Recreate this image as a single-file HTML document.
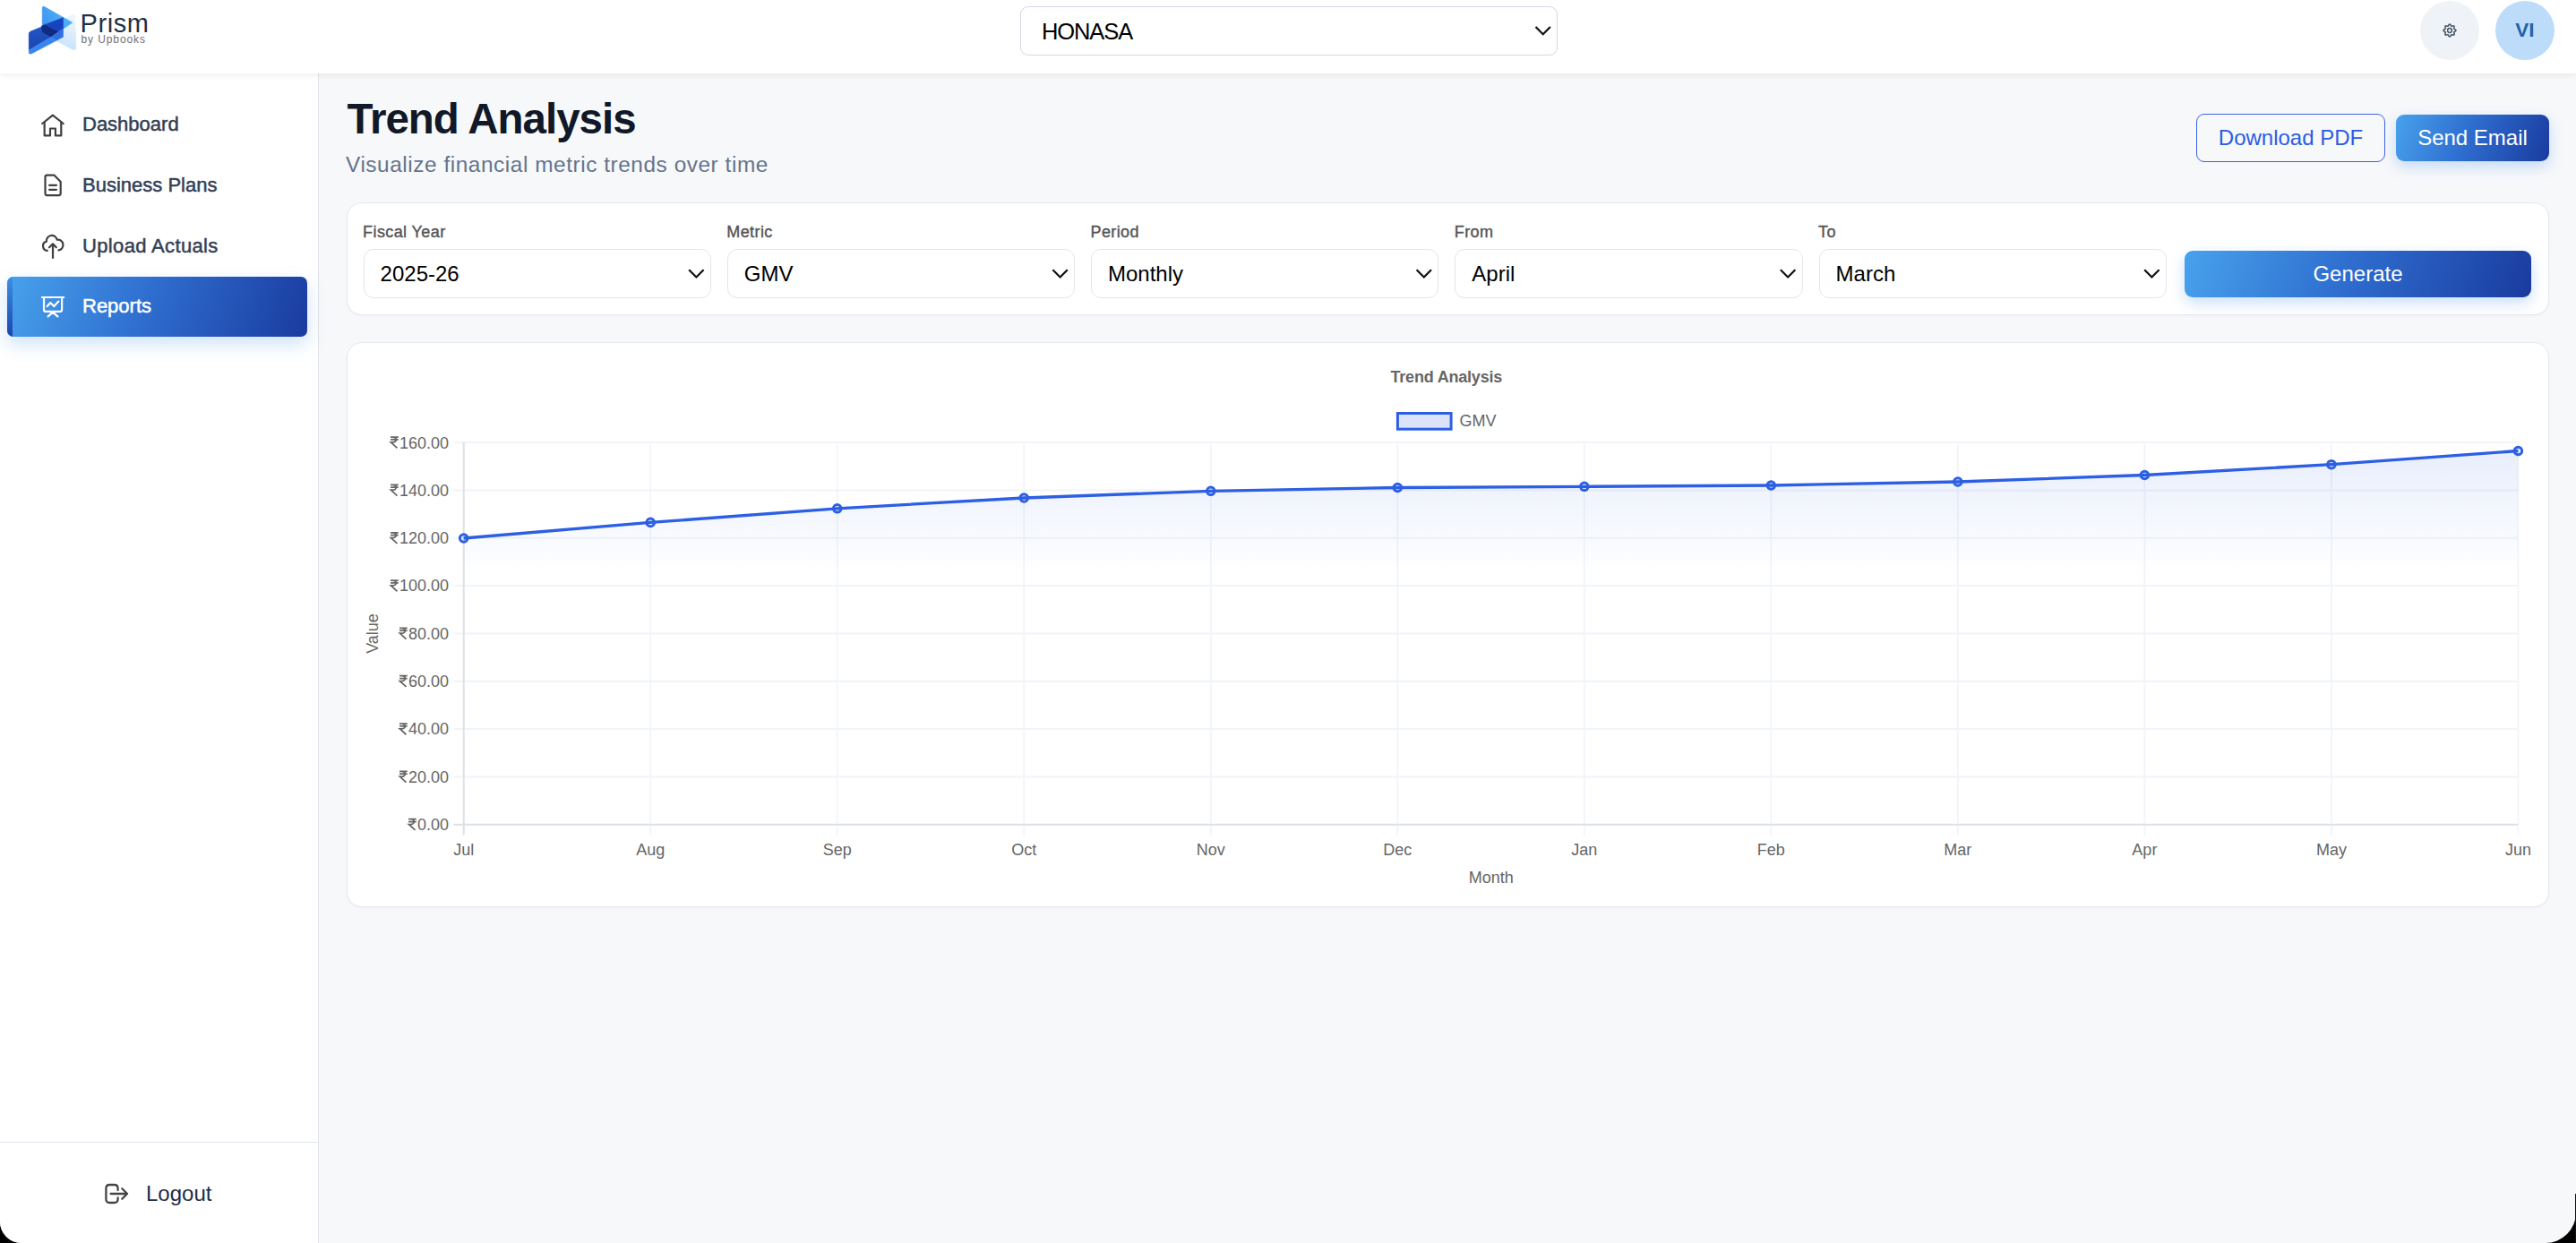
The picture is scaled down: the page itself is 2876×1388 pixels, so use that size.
<!DOCTYPE html>
<html><head><meta charset="utf-8">
<style>
*{margin:0;padding:0;box-sizing:border-box}
html,body{width:2876px;height:1388px;overflow:hidden;background:#000}
body{font-family:"Liberation Sans",sans-serif;position:relative}
.win{position:absolute;left:0;top:0;width:2876px;height:1388px;background:#f7f8fa;border-radius:0 0 34px 24px;overflow:hidden}
.a{position:absolute;line-height:1;white-space:nowrap}
.hdr{position:absolute;left:0;top:0;width:2876px;height:82px;background:#fff;box-shadow:0 2px 7px rgba(0,0,0,0.07)}
.side{position:absolute;left:0;top:82px;width:356px;height:1306px;background:#fff;border-right:1.2px solid #dfe3ea}
.nav{font-size:22px;color:#334155;-webkit-text-stroke:0.5px #334155}
.sel{position:absolute;background:#fff;border:1.4px solid #e3e5ea;border-radius:11px}
.lbl{font-size:18px;color:#555;-webkit-text-stroke:0.4px #555;letter-spacing:0.4px}
.val{font-size:24px;color:#000}
.grad{background:linear-gradient(110deg,#48a2ec 0%,#2f6fd0 45%,#1a3b9f 100%)}
svg text.ct{font-family:"Liberation Sans",sans-serif;font-size:18px;fill:#666}
</style></head><body>
<div class="win">
<div class="side"></div>
<div class="hdr"></div>
<div style="position:absolute;left:0;top:1274.5px;width:355px;height:1.5px;background:#e2e8f0"></div>

<!-- logo -->
<svg class="a" style="left:0;top:0" width="200" height="82" viewBox="0 0 200 82">
  <defs>
    <linearGradient id="lg1" x1="80" y1="12" x2="47" y2="30" gradientUnits="userSpaceOnUse"><stop offset="0" stop-color="#52b9f8"/><stop offset="1" stop-color="#3f93f1"/></linearGradient>
    <linearGradient id="lg3" x1="84" y1="20" x2="72" y2="52" gradientUnits="userSpaceOnUse"><stop offset="0" stop-color="#eef6fe"/><stop offset="1" stop-color="#cbe4fa"/></linearGradient>
    <linearGradient id="lg4" x1="40" y1="36" x2="40" y2="58" gradientUnits="userSpaceOnUse"><stop offset="0" stop-color="#1f52c2"/><stop offset="1" stop-color="#1a44aa"/></linearGradient>
  </defs>
  <g stroke-linejoin="round" stroke-width="1.2">
  <path d="M70.6 32 L70.6 22 L79.8 17 Q82.6 15.8 83.8 18.2 L84.6 53.8 Q83.8 55.8 81.8 55.2 L63 45.3 L70.6 41.3 Z" fill="url(#lg3)" stroke="url(#lg3)"/>
  <path d="M47.3 8.6 Q47.6 6.6 49.6 7.6 L80.8 25.2 L70.6 32 L70.6 19.6 L47.3 29.1 Z" fill="url(#lg1)" stroke="url(#lg1)" stroke-width="0.8"/>
  <path d="M32.2 37.5 Q32.4 35.8 34.2 35 L46.5 30 L46.8 35.9 L57 41.4 L32.3 55.9 Z" fill="url(#lg4)" stroke="url(#lg4)" stroke-width="0.6"/>
  <path d="M46.3 29.1 L50.7 27.2 L66.1 34.9 L57 41.4 L46.8 35.9 Z" fill="#0f2b82" stroke="#0f2b82" stroke-width="0.4"/>
  <path d="M50.7 27.2 L70.6 19.6 L70.6 32 L66.1 34.9 Z" fill="#1742c0" stroke="#1742c0" stroke-width="0.4"/>
  <path d="M57 41.4 L66.1 34.9 L70.6 32 L70.6 41.3 L63 45.3 Z" fill="#2f6fe2" stroke="#2f6fe2" stroke-width="0.4"/>
  <path d="M32.3 55.9 L57 41.4 L63 45.3 L35.5 59.8 Q32.3 61.2 32.2 58.2 Z" fill="#3785ee" stroke="#3785ee" stroke-width="0.6"/>
  </g>
</svg>
<div class="a" style="left:89.5px;top:11.75px;font-size:29px;color:#1f3144;letter-spacing:0.6px">Prism</div>
<div class="a" style="left:90.5px;top:37.94px;font-size:12px;color:#707070;letter-spacing:0.9px">by Upbooks</div>

<!-- company select -->
<div class="sel" style="left:1139px;top:7px;width:600px;height:54.5px;border-color:#d3d9e3;border-radius:9px"></div>
<div class="a" style="left:1163px;top:22.71px;font-size:25.5px;color:#000;letter-spacing:-1.1px">HONASA</div>
<svg class="a" style="left:0;top:0;overflow:visible" width="1" height="1"><path d="M1714.5 30 l8.2 8.2 l8.2 -8.2" fill="none" stroke="#111" stroke-width="2.25"/></svg>

<!-- header right -->
<div style="position:absolute;left:2702px;top:1px;width:66px;height:66px;border-radius:50%;background:#eff3f7"></div>
<svg class="a" style="left:0;top:0;overflow:visible" width="1" height="1"><polygon points="2741.90,34.00 2741.90,34.03 2741.90,34.06 2741.89,34.09 2741.89,34.12 2741.88,34.15 2741.88,34.18 2741.87,34.21 2741.86,34.24 2741.85,34.27 2741.84,34.30 2741.83,34.33 2741.81,34.36 2741.80,34.39 2741.78,34.41 2741.76,34.44 2741.75,34.47 2741.73,34.50 2741.71,34.53 2741.69,34.56 2741.66,34.58 2741.64,34.61 2741.62,34.64 2741.59,34.66 2741.57,34.69 2741.54,34.72 2741.51,34.74 2741.48,34.77 2741.45,34.79 2741.43,34.82 2741.39,34.84 2741.36,34.87 2741.33,34.89 2741.30,34.91 2741.27,34.94 2741.23,34.96 2741.20,34.98 2741.17,35.00 2741.13,35.03 2741.10,35.05 2741.06,35.07 2741.03,35.09 2740.99,35.11 2740.96,35.13 2740.92,35.15 2740.88,35.17 2740.85,35.19 2740.81,35.21 2740.78,35.23 2740.74,35.25 2740.71,35.26 2740.67,35.28 2740.63,35.30 2740.60,35.32 2740.56,35.34 2740.53,35.35 2740.49,35.37 2740.46,35.39 2740.43,35.40 2740.39,35.42 2740.36,35.44 2740.33,35.45 2740.30,35.47 2740.27,35.49 2740.23,35.50 2740.20,35.52 2740.18,35.53 2740.15,35.55 2740.12,35.56 2740.09,35.58 2740.06,35.60 2740.04,35.61 2740.01,35.63 2739.99,35.65 2739.97,35.66 2739.94,35.68 2739.92,35.69 2739.90,35.71 2739.88,35.73 2739.86,35.75 2739.84,35.76 2739.83,35.78 2739.81,35.80 2739.79,35.82 2739.78,35.83 2739.77,35.85 2739.75,35.87 2739.74,35.89 2739.73,35.91 2739.72,35.93 2739.71,35.95 2739.70,35.97 2739.70,35.99 2739.69,36.02 2739.69,36.04 2739.68,36.06 2739.68,36.08 2739.67,36.11 2739.67,36.13 2739.67,36.15 2739.67,36.18 2739.67,36.20 2739.67,36.23 2739.68,36.26 2739.68,36.28 2739.68,36.31 2739.69,36.34 2739.69,36.36 2739.70,36.39 2739.70,36.42 2739.71,36.45 2739.72,36.48 2739.73,36.51 2739.73,36.54 2739.74,36.58 2739.75,36.61 2739.76,36.64 2739.77,36.67 2739.78,36.71 2739.80,36.74 2739.81,36.77 2739.82,36.81 2739.83,36.84 2739.84,36.88 2739.85,36.92 2739.87,36.95 2739.88,36.99 2739.89,37.03 2739.90,37.06 2739.92,37.10 2739.93,37.14 2739.94,37.18 2739.95,37.22 2739.97,37.26 2739.98,37.29 2739.99,37.33 2740.00,37.37 2740.01,37.41 2740.02,37.45 2740.03,37.49 2740.04,37.53 2740.05,37.57 2740.06,37.61 2740.07,37.65 2740.08,37.69 2740.09,37.73 2740.09,37.77 2740.10,37.81 2740.11,37.85 2740.11,37.89 2740.12,37.93 2740.12,37.97 2740.12,38.00 2740.13,38.04 2740.13,38.08 2740.13,38.12 2740.13,38.15 2740.13,38.19 2740.13,38.23 2740.13,38.26 2740.12,38.30 2740.12,38.33 2740.12,38.37 2740.11,38.40 2740.10,38.44 2740.10,38.47 2740.09,38.50 2740.08,38.53 2740.07,38.56 2740.06,38.60 2740.05,38.62 2740.03,38.65 2740.02,38.68 2740.01,38.71 2739.99,38.74 2739.97,38.76 2739.96,38.79 2739.94,38.81 2739.92,38.83 2739.90,38.86 2739.88,38.88 2739.86,38.90 2739.83,38.92 2739.81,38.94 2739.79,38.96 2739.76,38.97 2739.74,38.99 2739.71,39.01 2739.68,39.02 2739.65,39.03 2739.62,39.05 2739.60,39.06 2739.56,39.07 2739.53,39.08 2739.50,39.09 2739.47,39.10 2739.44,39.10 2739.40,39.11 2739.37,39.12 2739.33,39.12 2739.30,39.12 2739.26,39.13 2739.23,39.13 2739.19,39.13 2739.15,39.13 2739.12,39.13 2739.08,39.13 2739.04,39.13 2739.00,39.12 2738.97,39.12 2738.93,39.12 2738.89,39.11 2738.85,39.11 2738.81,39.10 2738.77,39.09 2738.73,39.09 2738.69,39.08 2738.65,39.07 2738.61,39.06 2738.57,39.05 2738.53,39.04 2738.49,39.03 2738.45,39.02 2738.41,39.01 2738.37,39.00 2738.33,38.99 2738.29,38.98 2738.26,38.97 2738.22,38.95 2738.18,38.94 2738.14,38.93 2738.10,38.92 2738.06,38.90 2738.03,38.89 2737.99,38.88 2737.95,38.87 2737.92,38.85 2737.88,38.84 2737.84,38.83 2737.81,38.82 2737.78,38.81 2737.74,38.80 2737.71,38.78 2737.67,38.77 2737.64,38.76 2737.61,38.75 2737.58,38.74 2737.54,38.73 2737.51,38.73 2737.48,38.72 2737.45,38.71 2737.42,38.70 2737.39,38.70 2737.36,38.69 2737.34,38.69 2737.31,38.68 2737.28,38.68 2737.26,38.68 2737.23,38.67 2737.20,38.67 2737.18,38.67 2737.15,38.67 2737.13,38.67 2737.11,38.67 2737.08,38.68 2737.06,38.68 2737.04,38.69 2737.02,38.69 2736.99,38.70 2736.97,38.70 2736.95,38.71 2736.93,38.72 2736.91,38.73 2736.89,38.74 2736.87,38.75 2736.85,38.77 2736.83,38.78 2736.82,38.79 2736.80,38.81 2736.78,38.83 2736.76,38.84 2736.75,38.86 2736.73,38.88 2736.71,38.90 2736.69,38.92 2736.68,38.94 2736.66,38.97 2736.65,38.99 2736.63,39.01 2736.61,39.04 2736.60,39.06 2736.58,39.09 2736.56,39.12 2736.55,39.15 2736.53,39.18 2736.52,39.20 2736.50,39.23 2736.49,39.27 2736.47,39.30 2736.45,39.33 2736.44,39.36 2736.42,39.39 2736.40,39.43 2736.39,39.46 2736.37,39.49 2736.35,39.53 2736.34,39.56 2736.32,39.60 2736.30,39.63 2736.28,39.67 2736.26,39.71 2736.25,39.74 2736.23,39.78 2736.21,39.81 2736.19,39.85 2736.17,39.88 2736.15,39.92 2736.13,39.96 2736.11,39.99 2736.09,40.03 2736.07,40.06 2736.05,40.10 2736.03,40.13 2736.00,40.17 2735.98,40.20 2735.96,40.23 2735.94,40.27 2735.91,40.30 2735.89,40.33 2735.87,40.36 2735.84,40.39 2735.82,40.43 2735.79,40.45 2735.77,40.48 2735.74,40.51 2735.72,40.54 2735.69,40.57 2735.66,40.59 2735.64,40.62 2735.61,40.64 2735.58,40.66 2735.56,40.69 2735.53,40.71 2735.50,40.73 2735.47,40.75 2735.44,40.76 2735.41,40.78 2735.39,40.80 2735.36,40.81 2735.33,40.83 2735.30,40.84 2735.27,40.85 2735.24,40.86 2735.21,40.87 2735.18,40.88 2735.15,40.88 2735.12,40.89 2735.09,40.89 2735.06,40.90 2735.03,40.90 2735.00,40.90 2734.97,40.90 2734.94,40.90 2734.91,40.89 2734.88,40.89 2734.85,40.88 2734.82,40.88 2734.79,40.87 2734.76,40.86 2734.73,40.85 2734.70,40.84 2734.67,40.83 2734.64,40.81 2734.61,40.80 2734.59,40.78 2734.56,40.76 2734.53,40.75 2734.50,40.73 2734.47,40.71 2734.44,40.69 2734.42,40.66 2734.39,40.64 2734.36,40.62 2734.34,40.59 2734.31,40.57 2734.28,40.54 2734.26,40.51 2734.23,40.48 2734.21,40.45 2734.18,40.43 2734.16,40.39 2734.13,40.36 2734.11,40.33 2734.09,40.30 2734.06,40.27 2734.04,40.23 2734.02,40.20 2734.00,40.17 2733.97,40.13 2733.95,40.10 2733.93,40.06 2733.91,40.03 2733.89,39.99 2733.87,39.96 2733.85,39.92 2733.83,39.88 2733.81,39.85 2733.79,39.81 2733.77,39.78 2733.75,39.74 2733.74,39.71 2733.72,39.67 2733.70,39.63 2733.68,39.60 2733.66,39.56 2733.65,39.53 2733.63,39.49 2733.61,39.46 2733.60,39.43 2733.58,39.39 2733.56,39.36 2733.55,39.33 2733.53,39.30 2733.51,39.27 2733.50,39.23 2733.48,39.20 2733.47,39.18 2733.45,39.15 2733.44,39.12 2733.42,39.09 2733.40,39.06 2733.39,39.04 2733.37,39.01 2733.35,38.99 2733.34,38.97 2733.32,38.94 2733.31,38.92 2733.29,38.90 2733.27,38.88 2733.25,38.86 2733.24,38.84 2733.22,38.83 2733.20,38.81 2733.18,38.79 2733.17,38.78 2733.15,38.77 2733.13,38.75 2733.11,38.74 2733.09,38.73 2733.07,38.72 2733.05,38.71 2733.03,38.70 2733.01,38.70 2732.98,38.69 2732.96,38.69 2732.94,38.68 2732.92,38.68 2732.89,38.67 2732.87,38.67 2732.85,38.67 2732.82,38.67 2732.80,38.67 2732.77,38.67 2732.74,38.68 2732.72,38.68 2732.69,38.68 2732.66,38.69 2732.64,38.69 2732.61,38.70 2732.58,38.70 2732.55,38.71 2732.52,38.72 2732.49,38.73 2732.46,38.73 2732.42,38.74 2732.39,38.75 2732.36,38.76 2732.33,38.77 2732.29,38.78 2732.26,38.80 2732.22,38.81 2732.19,38.82 2732.16,38.83 2732.12,38.84 2732.08,38.85 2732.05,38.87 2732.01,38.88 2731.97,38.89 2731.94,38.90 2731.90,38.92 2731.86,38.93 2731.82,38.94 2731.78,38.95 2731.74,38.97 2731.71,38.98 2731.67,38.99 2731.63,39.00 2731.59,39.01 2731.55,39.02 2731.51,39.03 2731.47,39.04 2731.43,39.05 2731.39,39.06 2731.35,39.07 2731.31,39.08 2731.27,39.09 2731.23,39.09 2731.19,39.10 2731.15,39.11 2731.11,39.11 2731.07,39.12 2731.03,39.12 2731.00,39.12 2730.96,39.13 2730.92,39.13 2730.88,39.13 2730.85,39.13 2730.81,39.13 2730.77,39.13 2730.74,39.13 2730.70,39.12 2730.67,39.12 2730.63,39.12 2730.60,39.11 2730.56,39.10 2730.53,39.10 2730.50,39.09 2730.47,39.08 2730.44,39.07 2730.40,39.06 2730.38,39.05 2730.35,39.03 2730.32,39.02 2730.29,39.01 2730.26,38.99 2730.24,38.97 2730.21,38.96 2730.19,38.94 2730.17,38.92 2730.14,38.90 2730.12,38.88 2730.10,38.86 2730.08,38.83 2730.06,38.81 2730.04,38.79 2730.03,38.76 2730.01,38.74 2729.99,38.71 2729.98,38.68 2729.97,38.65 2729.95,38.62 2729.94,38.60 2729.93,38.56 2729.92,38.53 2729.91,38.50 2729.90,38.47 2729.90,38.44 2729.89,38.40 2729.88,38.37 2729.88,38.33 2729.88,38.30 2729.87,38.26 2729.87,38.23 2729.87,38.19 2729.87,38.15 2729.87,38.12 2729.87,38.08 2729.87,38.04 2729.88,38.00 2729.88,37.97 2729.88,37.93 2729.89,37.89 2729.89,37.85 2729.90,37.81 2729.91,37.77 2729.91,37.73 2729.92,37.69 2729.93,37.65 2729.94,37.61 2729.95,37.57 2729.96,37.53 2729.97,37.49 2729.98,37.45 2729.99,37.41 2730.00,37.37 2730.01,37.33 2730.02,37.29 2730.03,37.26 2730.05,37.22 2730.06,37.18 2730.07,37.14 2730.08,37.10 2730.10,37.06 2730.11,37.03 2730.12,36.99 2730.13,36.95 2730.15,36.92 2730.16,36.88 2730.17,36.84 2730.18,36.81 2730.19,36.77 2730.20,36.74 2730.22,36.71 2730.23,36.67 2730.24,36.64 2730.25,36.61 2730.26,36.58 2730.27,36.54 2730.27,36.51 2730.28,36.48 2730.29,36.45 2730.30,36.42 2730.30,36.39 2730.31,36.36 2730.31,36.34 2730.32,36.31 2730.32,36.28 2730.32,36.26 2730.33,36.23 2730.33,36.20 2730.33,36.18 2730.33,36.15 2730.33,36.13 2730.33,36.11 2730.32,36.08 2730.32,36.06 2730.31,36.04 2730.31,36.02 2730.30,35.99 2730.30,35.97 2730.29,35.95 2730.28,35.93 2730.27,35.91 2730.26,35.89 2730.25,35.87 2730.23,35.85 2730.22,35.83 2730.21,35.82 2730.19,35.80 2730.17,35.78 2730.16,35.76 2730.14,35.75 2730.12,35.73 2730.10,35.71 2730.08,35.69 2730.06,35.68 2730.03,35.66 2730.01,35.65 2729.99,35.63 2729.96,35.61 2729.94,35.60 2729.91,35.58 2729.88,35.56 2729.85,35.55 2729.82,35.53 2729.80,35.52 2729.77,35.50 2729.73,35.49 2729.70,35.47 2729.67,35.45 2729.64,35.44 2729.61,35.42 2729.57,35.40 2729.54,35.39 2729.51,35.37 2729.47,35.35 2729.44,35.34 2729.40,35.32 2729.37,35.30 2729.33,35.28 2729.29,35.26 2729.26,35.25 2729.22,35.23 2729.19,35.21 2729.15,35.19 2729.12,35.17 2729.08,35.15 2729.04,35.13 2729.01,35.11 2728.97,35.09 2728.94,35.07 2728.90,35.05 2728.87,35.03 2728.83,35.00 2728.80,34.98 2728.77,34.96 2728.73,34.94 2728.70,34.91 2728.67,34.89 2728.64,34.87 2728.61,34.84 2728.57,34.82 2728.55,34.79 2728.52,34.77 2728.49,34.74 2728.46,34.72 2728.43,34.69 2728.41,34.66 2728.38,34.64 2728.36,34.61 2728.34,34.58 2728.31,34.56 2728.29,34.53 2728.27,34.50 2728.25,34.47 2728.24,34.44 2728.22,34.41 2728.20,34.39 2728.19,34.36 2728.17,34.33 2728.16,34.30 2728.15,34.27 2728.14,34.24 2728.13,34.21 2728.12,34.18 2728.12,34.15 2728.11,34.12 2728.11,34.09 2728.10,34.06 2728.10,34.03 2728.10,34.00 2728.10,33.97 2728.10,33.94 2728.11,33.91 2728.11,33.88 2728.12,33.85 2728.12,33.82 2728.13,33.79 2728.14,33.76 2728.15,33.73 2728.16,33.70 2728.17,33.67 2728.19,33.64 2728.20,33.61 2728.22,33.59 2728.24,33.56 2728.25,33.53 2728.27,33.50 2728.29,33.47 2728.31,33.44 2728.34,33.42 2728.36,33.39 2728.38,33.36 2728.41,33.34 2728.43,33.31 2728.46,33.28 2728.49,33.26 2728.52,33.23 2728.55,33.21 2728.57,33.18 2728.61,33.16 2728.64,33.13 2728.67,33.11 2728.70,33.09 2728.73,33.06 2728.77,33.04 2728.80,33.02 2728.83,33.00 2728.87,32.97 2728.90,32.95 2728.94,32.93 2728.97,32.91 2729.01,32.89 2729.04,32.87 2729.08,32.85 2729.12,32.83 2729.15,32.81 2729.19,32.79 2729.22,32.77 2729.26,32.75 2729.29,32.74 2729.33,32.72 2729.37,32.70 2729.40,32.68 2729.44,32.66 2729.47,32.65 2729.51,32.63 2729.54,32.61 2729.57,32.60 2729.61,32.58 2729.64,32.56 2729.67,32.55 2729.70,32.53 2729.73,32.51 2729.77,32.50 2729.80,32.48 2729.82,32.47 2729.85,32.45 2729.88,32.44 2729.91,32.42 2729.94,32.40 2729.96,32.39 2729.99,32.37 2730.01,32.35 2730.03,32.34 2730.06,32.32 2730.08,32.31 2730.10,32.29 2730.12,32.27 2730.14,32.25 2730.16,32.24 2730.17,32.22 2730.19,32.20 2730.21,32.18 2730.22,32.17 2730.23,32.15 2730.25,32.13 2730.26,32.11 2730.27,32.09 2730.28,32.07 2730.29,32.05 2730.30,32.03 2730.30,32.01 2730.31,31.98 2730.31,31.96 2730.32,31.94 2730.32,31.92 2730.33,31.89 2730.33,31.87 2730.33,31.85 2730.33,31.82 2730.33,31.80 2730.33,31.77 2730.32,31.74 2730.32,31.72 2730.32,31.69 2730.31,31.66 2730.31,31.64 2730.30,31.61 2730.30,31.58 2730.29,31.55 2730.28,31.52 2730.27,31.49 2730.27,31.46 2730.26,31.42 2730.25,31.39 2730.24,31.36 2730.23,31.33 2730.22,31.29 2730.20,31.26 2730.19,31.22 2730.18,31.19 2730.17,31.16 2730.16,31.12 2730.15,31.08 2730.13,31.05 2730.12,31.01 2730.11,30.97 2730.10,30.94 2730.08,30.90 2730.07,30.86 2730.06,30.82 2730.05,30.78 2730.03,30.74 2730.02,30.71 2730.01,30.67 2730.00,30.63 2729.99,30.59 2729.98,30.55 2729.97,30.51 2729.96,30.47 2729.95,30.43 2729.94,30.39 2729.93,30.35 2729.92,30.31 2729.91,30.27 2729.91,30.23 2729.90,30.19 2729.89,30.15 2729.89,30.11 2729.88,30.07 2729.88,30.03 2729.88,30.00 2729.87,29.96 2729.87,29.92 2729.87,29.88 2729.87,29.85 2729.87,29.81 2729.87,29.77 2729.87,29.74 2729.88,29.70 2729.88,29.67 2729.88,29.63 2729.89,29.60 2729.90,29.56 2729.90,29.53 2729.91,29.50 2729.92,29.47 2729.93,29.44 2729.94,29.40 2729.95,29.38 2729.97,29.35 2729.98,29.32 2729.99,29.29 2730.01,29.26 2730.03,29.24 2730.04,29.21 2730.06,29.19 2730.08,29.17 2730.10,29.14 2730.12,29.12 2730.14,29.10 2730.17,29.08 2730.19,29.06 2730.21,29.04 2730.24,29.03 2730.26,29.01 2730.29,28.99 2730.32,28.98 2730.35,28.97 2730.38,28.95 2730.40,28.94 2730.44,28.93 2730.47,28.92 2730.50,28.91 2730.53,28.90 2730.56,28.90 2730.60,28.89 2730.63,28.88 2730.67,28.88 2730.70,28.88 2730.74,28.87 2730.77,28.87 2730.81,28.87 2730.85,28.87 2730.88,28.87 2730.92,28.87 2730.96,28.87 2731.00,28.88 2731.03,28.88 2731.07,28.88 2731.11,28.89 2731.15,28.89 2731.19,28.90 2731.23,28.91 2731.27,28.91 2731.31,28.92 2731.35,28.93 2731.39,28.94 2731.43,28.95 2731.47,28.96 2731.51,28.97 2731.55,28.98 2731.59,28.99 2731.63,29.00 2731.67,29.01 2731.71,29.02 2731.74,29.03 2731.78,29.05 2731.82,29.06 2731.86,29.07 2731.90,29.08 2731.94,29.10 2731.97,29.11 2732.01,29.12 2732.05,29.13 2732.08,29.15 2732.12,29.16 2732.16,29.17 2732.19,29.18 2732.22,29.19 2732.26,29.20 2732.29,29.22 2732.33,29.23 2732.36,29.24 2732.39,29.25 2732.42,29.26 2732.46,29.27 2732.49,29.27 2732.52,29.28 2732.55,29.29 2732.58,29.30 2732.61,29.30 2732.64,29.31 2732.66,29.31 2732.69,29.32 2732.72,29.32 2732.74,29.32 2732.77,29.33 2732.80,29.33 2732.82,29.33 2732.85,29.33 2732.87,29.33 2732.89,29.33 2732.92,29.32 2732.94,29.32 2732.96,29.31 2732.98,29.31 2733.01,29.30 2733.03,29.30 2733.05,29.29 2733.07,29.28 2733.09,29.27 2733.11,29.26 2733.13,29.25 2733.15,29.23 2733.17,29.22 2733.18,29.21 2733.20,29.19 2733.22,29.17 2733.24,29.16 2733.25,29.14 2733.27,29.12 2733.29,29.10 2733.31,29.08 2733.32,29.06 2733.34,29.03 2733.35,29.01 2733.37,28.99 2733.39,28.96 2733.40,28.94 2733.42,28.91 2733.44,28.88 2733.45,28.85 2733.47,28.82 2733.48,28.80 2733.50,28.77 2733.51,28.73 2733.53,28.70 2733.55,28.67 2733.56,28.64 2733.58,28.61 2733.60,28.57 2733.61,28.54 2733.63,28.51 2733.65,28.47 2733.66,28.44 2733.68,28.40 2733.70,28.37 2733.72,28.33 2733.74,28.29 2733.75,28.26 2733.77,28.22 2733.79,28.19 2733.81,28.15 2733.83,28.12 2733.85,28.08 2733.87,28.04 2733.89,28.01 2733.91,27.97 2733.93,27.94 2733.95,27.90 2733.97,27.87 2734.00,27.83 2734.02,27.80 2734.04,27.77 2734.06,27.73 2734.09,27.70 2734.11,27.67 2734.13,27.64 2734.16,27.61 2734.18,27.57 2734.21,27.55 2734.23,27.52 2734.26,27.49 2734.28,27.46 2734.31,27.43 2734.34,27.41 2734.36,27.38 2734.39,27.36 2734.42,27.34 2734.44,27.31 2734.47,27.29 2734.50,27.27 2734.53,27.25 2734.56,27.24 2734.59,27.22 2734.61,27.20 2734.64,27.19 2734.67,27.17 2734.70,27.16 2734.73,27.15 2734.76,27.14 2734.79,27.13 2734.82,27.12 2734.85,27.12 2734.88,27.11 2734.91,27.11 2734.94,27.10 2734.97,27.10 2735.00,27.10 2735.03,27.10 2735.06,27.10 2735.09,27.11 2735.12,27.11 2735.15,27.12 2735.18,27.12 2735.21,27.13 2735.24,27.14 2735.27,27.15 2735.30,27.16 2735.33,27.17 2735.36,27.19 2735.39,27.20 2735.41,27.22 2735.44,27.24 2735.47,27.25 2735.50,27.27 2735.53,27.29 2735.56,27.31 2735.58,27.34 2735.61,27.36 2735.64,27.38 2735.66,27.41 2735.69,27.43 2735.72,27.46 2735.74,27.49 2735.77,27.52 2735.79,27.55 2735.82,27.57 2735.84,27.61 2735.87,27.64 2735.89,27.67 2735.91,27.70 2735.94,27.73 2735.96,27.77 2735.98,27.80 2736.00,27.83 2736.03,27.87 2736.05,27.90 2736.07,27.94 2736.09,27.97 2736.11,28.01 2736.13,28.04 2736.15,28.08 2736.17,28.12 2736.19,28.15 2736.21,28.19 2736.23,28.22 2736.25,28.26 2736.26,28.29 2736.28,28.33 2736.30,28.37 2736.32,28.40 2736.34,28.44 2736.35,28.47 2736.37,28.51 2736.39,28.54 2736.40,28.57 2736.42,28.61 2736.44,28.64 2736.45,28.67 2736.47,28.70 2736.49,28.73 2736.50,28.77 2736.52,28.80 2736.53,28.82 2736.55,28.85 2736.56,28.88 2736.58,28.91 2736.60,28.94 2736.61,28.96 2736.63,28.99 2736.65,29.01 2736.66,29.03 2736.68,29.06 2736.69,29.08 2736.71,29.10 2736.73,29.12 2736.75,29.14 2736.76,29.16 2736.78,29.17 2736.80,29.19 2736.82,29.21 2736.83,29.22 2736.85,29.23 2736.87,29.25 2736.89,29.26 2736.91,29.27 2736.93,29.28 2736.95,29.29 2736.97,29.30 2736.99,29.30 2737.02,29.31 2737.04,29.31 2737.06,29.32 2737.08,29.32 2737.11,29.33 2737.13,29.33 2737.15,29.33 2737.18,29.33 2737.20,29.33 2737.23,29.33 2737.26,29.32 2737.28,29.32 2737.31,29.32 2737.34,29.31 2737.36,29.31 2737.39,29.30 2737.42,29.30 2737.45,29.29 2737.48,29.28 2737.51,29.27 2737.54,29.27 2737.58,29.26 2737.61,29.25 2737.64,29.24 2737.67,29.23 2737.71,29.22 2737.74,29.20 2737.78,29.19 2737.81,29.18 2737.84,29.17 2737.88,29.16 2737.92,29.15 2737.95,29.13 2737.99,29.12 2738.03,29.11 2738.06,29.10 2738.10,29.08 2738.14,29.07 2738.18,29.06 2738.22,29.05 2738.26,29.03 2738.29,29.02 2738.33,29.01 2738.37,29.00 2738.41,28.99 2738.45,28.98 2738.49,28.97 2738.53,28.96 2738.57,28.95 2738.61,28.94 2738.65,28.93 2738.69,28.92 2738.73,28.91 2738.77,28.91 2738.81,28.90 2738.85,28.89 2738.89,28.89 2738.93,28.88 2738.97,28.88 2739.00,28.88 2739.04,28.87 2739.08,28.87 2739.12,28.87 2739.15,28.87 2739.19,28.87 2739.23,28.87 2739.26,28.87 2739.30,28.88 2739.33,28.88 2739.37,28.88 2739.40,28.89 2739.44,28.90 2739.47,28.90 2739.50,28.91 2739.53,28.92 2739.56,28.93 2739.60,28.94 2739.62,28.95 2739.65,28.97 2739.68,28.98 2739.71,28.99 2739.74,29.01 2739.76,29.03 2739.79,29.04 2739.81,29.06 2739.83,29.08 2739.86,29.10 2739.88,29.12 2739.90,29.14 2739.92,29.17 2739.94,29.19 2739.96,29.21 2739.97,29.24 2739.99,29.26 2740.01,29.29 2740.02,29.32 2740.03,29.35 2740.05,29.38 2740.06,29.40 2740.07,29.44 2740.08,29.47 2740.09,29.50 2740.10,29.53 2740.10,29.56 2740.11,29.60 2740.12,29.63 2740.12,29.67 2740.12,29.70 2740.13,29.74 2740.13,29.77 2740.13,29.81 2740.13,29.85 2740.13,29.88 2740.13,29.92 2740.13,29.96 2740.12,30.00 2740.12,30.03 2740.12,30.07 2740.11,30.11 2740.11,30.15 2740.10,30.19 2740.09,30.23 2740.09,30.27 2740.08,30.31 2740.07,30.35 2740.06,30.39 2740.05,30.43 2740.04,30.47 2740.03,30.51 2740.02,30.55 2740.01,30.59 2740.00,30.63 2739.99,30.67 2739.98,30.71 2739.97,30.74 2739.95,30.78 2739.94,30.82 2739.93,30.86 2739.92,30.90 2739.90,30.94 2739.89,30.97 2739.88,31.01 2739.87,31.05 2739.85,31.08 2739.84,31.12 2739.83,31.16 2739.82,31.19 2739.81,31.22 2739.80,31.26 2739.78,31.29 2739.77,31.33 2739.76,31.36 2739.75,31.39 2739.74,31.42 2739.73,31.46 2739.73,31.49 2739.72,31.52 2739.71,31.55 2739.70,31.58 2739.70,31.61 2739.69,31.64 2739.69,31.66 2739.68,31.69 2739.68,31.72 2739.68,31.74 2739.67,31.77 2739.67,31.80 2739.67,31.82 2739.67,31.85 2739.67,31.87 2739.67,31.89 2739.68,31.92 2739.68,31.94 2739.69,31.96 2739.69,31.98 2739.70,32.01 2739.70,32.03 2739.71,32.05 2739.72,32.07 2739.73,32.09 2739.74,32.11 2739.75,32.13 2739.77,32.15 2739.78,32.17 2739.79,32.18 2739.81,32.20 2739.83,32.22 2739.84,32.24 2739.86,32.25 2739.88,32.27 2739.90,32.29 2739.92,32.31 2739.94,32.32 2739.97,32.34 2739.99,32.35 2740.01,32.37 2740.04,32.39 2740.06,32.40 2740.09,32.42 2740.12,32.44 2740.15,32.45 2740.18,32.47 2740.20,32.48 2740.23,32.50 2740.27,32.51 2740.30,32.53 2740.33,32.55 2740.36,32.56 2740.39,32.58 2740.43,32.60 2740.46,32.61 2740.49,32.63 2740.53,32.65 2740.56,32.66 2740.60,32.68 2740.63,32.70 2740.67,32.72 2740.71,32.74 2740.74,32.75 2740.78,32.77 2740.81,32.79 2740.85,32.81 2740.88,32.83 2740.92,32.85 2740.96,32.87 2740.99,32.89 2741.03,32.91 2741.06,32.93 2741.10,32.95 2741.13,32.97 2741.17,33.00 2741.20,33.02 2741.23,33.04 2741.27,33.06 2741.30,33.09 2741.33,33.11 2741.36,33.13 2741.39,33.16 2741.43,33.18 2741.45,33.21 2741.48,33.23 2741.51,33.26 2741.54,33.28 2741.57,33.31 2741.59,33.34 2741.62,33.36 2741.64,33.39 2741.66,33.42 2741.69,33.44 2741.71,33.47 2741.73,33.50 2741.75,33.53 2741.76,33.56 2741.78,33.59 2741.80,33.61 2741.81,33.64 2741.83,33.67 2741.84,33.70 2741.85,33.73 2741.86,33.76 2741.87,33.79 2741.88,33.82 2741.88,33.85 2741.89,33.88 2741.89,33.91 2741.90,33.94 2741.90,33.97" fill="none" stroke="#475569" stroke-width="1.5"/><circle cx="2735" cy="34" r="2.4" fill="none" stroke="#475569" stroke-width="1.5"/></svg>
<div style="position:absolute;left:2786px;top:1px;width:66px;height:66px;border-radius:50%;background:#bcdcfa"></div>
<div class="a" style="left:2786px;width:66px;text-align:center;top:22.95px;font-size:22.5px;font-weight:bold;color:#2361a9">VI</div>

<!-- nav -->
<svg class="a" style="left:0;top:0;overflow:visible" width="1" height="1">
 <g fill="none" stroke="#404040" stroke-width="2.2" stroke-linejoin="round" stroke-linecap="round">
  <path d="M47.2 138 L58.9 128.7 L70.7 138"/>
  <path d="M49.65 136.5 V151.4 H56 V143.5 H61.9 V151.4 H68.3 V136.5"/>
  <path d="M52.5 195.6 H60.4 L67.7 203.1 V216.1 Q67.7 218.1 65.7 218.1 H52.5 Q50.5 218.1 50.5 216.1 V197.6 Q50.5 195.6 52.5 195.6 Z"/>
  <path d="M55.1 206.8 H63 M55.1 211.8 H63"/>
  <path d="M52.8 279.8 A5.2 5.2 0 0 1 51.9 269.6 A5.94 5.94 0 0 1 63.6 267.6 A5.9 5.9 0 0 1 65.4 279.4"/>
  <path d="M59 288 V272.8 M55 276.3 L59 272.3 L62.8 276.3"/>
 </g>
</svg>
<div class="a nav" style="left:92px;top:128.47px">Dashboard</div>
<div class="a nav" style="left:92px;top:196.37px">Business Plans</div>
<div class="a nav" style="left:92px;top:263.57px;letter-spacing:0.35px">Upload Actuals</div>

<div class="grad" style="position:absolute;left:8px;top:309px;width:335px;height:67px;border-radius:7px;box-shadow:0 8px 20px rgba(59,140,230,0.25);overflow:hidden">
  <div style="position:absolute;left:0;top:0;width:6px;height:67px;background:linear-gradient(180deg,#3f8fe3,#1a45b0)"></div>
</div>
<svg class="a" style="left:0;top:0;overflow:visible" width="1" height="1">
 <g fill="none" stroke="#fff" stroke-width="2.2" stroke-linejoin="round" stroke-linecap="round">
  <path d="M46.9 332 H71.2"/>
  <path d="M49 332 V346 Q49 347.9 51 347.9 H67.1 Q69.1 347.9 69.1 346 V332"/>
  <path d="M52.7 342.1 L56.4 338.1 L60.3 342.1 L65.4 336.6"/>
  <path d="M53.6 353.4 L59 348.6 L64.4 353.4"/>
 </g>
</svg>
<div class="a nav" style="left:92px;top:331.37px;color:#fff;-webkit-text-stroke:0.5px #fff">Reports</div>

<!-- logout -->
<svg class="a" style="left:0;top:0;overflow:visible" width="1" height="1">
 <g fill="none" stroke="#444" stroke-width="2.3" stroke-linejoin="round" stroke-linecap="round">
  <path d="M131.6 1329 V1327 Q131.6 1323 127.6 1323 H122.4 Q118.4 1323 118.4 1327 V1339 Q118.4 1343 122.4 1343 H127.6 Q131.6 1343 131.6 1339 V1337.3"/>
  <path d="M123.6 1333 H142 M136.3 1327.3 L142 1333 L136.3 1338.7"/>
 </g>
</svg>
<div class="a" style="left:163px;top:1320.98px;font-size:24px;color:#1e2d44">Logout</div>

<!-- title -->
<div class="a" style="left:387.5px;top:108.68px;font-size:47.5px;font-weight:bold;color:#111827;letter-spacing:-1px">Trend Analysis</div>
<div class="a" style="left:386px;top:171.94px;font-size:24.4px;color:#64748b;letter-spacing:0.55px">Visualize financial metric trends over time</div>

<div style="position:absolute;left:2452px;top:127px;width:211px;height:53.5px;border:1.6px solid #3b63e6;border-radius:9px"></div>
<div class="a" style="left:2452px;width:211px;text-align:center;top:142.08px;font-size:24px;color:#2b5ce6">Download PDF</div>
<div class="grad" style="position:absolute;left:2675px;top:128px;width:171px;height:52px;border-radius:9px;box-shadow:0 6px 16px rgba(59,140,230,0.28)"></div>
<div class="a" style="left:2675px;width:171px;text-align:center;top:142.08px;font-size:24px;color:#fff">Send Email</div>

<!-- filter card -->
<div style="position:absolute;left:386.5px;top:226px;width:2459px;height:125.5px;background:#fff;border:1.4px solid #e6e8ee;border-radius:17px;box-shadow:0 1px 3px rgba(0,0,0,0.035)"></div>
<div class="a lbl" style="left:405.1px;top:249.86px">Fiscal Year</div>
<div class="sel" style="left:405.6px;top:278.3px;width:388.3px;height:54.6px"></div>
<div class="a val" style="left:424.6px;top:293.88px">2025-26</div>
<svg class="a" style="left:0;top:0;overflow:visible" width="1" height="1"><path d="M769.2 301.3 l8.2 8.2 l8.2 -8.2" fill="none" stroke="#111" stroke-width="2.25"/></svg>
<div class="a lbl" style="left:811.3px;top:249.86px">Metric</div>
<div class="sel" style="left:811.8px;top:278.3px;width:388.3px;height:54.6px"></div>
<div class="a val" style="left:830.8px;top:293.88px">GMV</div>
<svg class="a" style="left:0;top:0;overflow:visible" width="1" height="1"><path d="M1175.4 301.3 l8.2 8.2 l8.2 -8.2" fill="none" stroke="#111" stroke-width="2.25"/></svg>
<div class="a lbl" style="left:1217.5px;top:249.86px">Period</div>
<div class="sel" style="left:1218.0px;top:278.3px;width:388.3px;height:54.6px"></div>
<div class="a val" style="left:1237.0px;top:293.88px">Monthly</div>
<svg class="a" style="left:0;top:0;overflow:visible" width="1" height="1"><path d="M1581.6 301.3 l8.2 8.2 l8.2 -8.2" fill="none" stroke="#111" stroke-width="2.25"/></svg>
<div class="a lbl" style="left:1623.8px;top:249.86px">From</div>
<div class="sel" style="left:1624.3px;top:278.3px;width:388.3px;height:54.6px"></div>
<div class="a val" style="left:1643.3px;top:293.88px">April</div>
<svg class="a" style="left:0;top:0;overflow:visible" width="1" height="1"><path d="M1987.9 301.3 l8.2 8.2 l8.2 -8.2" fill="none" stroke="#111" stroke-width="2.25"/></svg>
<div class="a lbl" style="left:2030.1px;top:249.86px">To</div>
<div class="sel" style="left:2030.6px;top:278.3px;width:388.3px;height:54.6px"></div>
<div class="a val" style="left:2049.6px;top:293.88px">March</div>
<svg class="a" style="left:0;top:0;overflow:visible" width="1" height="1"><path d="M2394.2 301.3 l8.2 8.2 l8.2 -8.2" fill="none" stroke="#111" stroke-width="2.25"/></svg>
<div class="grad" style="position:absolute;left:2439px;top:280px;width:387px;height:52px;border-radius:9px;box-shadow:0 6px 16px rgba(59,140,230,0.28)"></div>
<div class="a" style="left:2439px;width:387px;text-align:center;top:293.68px;font-size:24px;color:#fff">Generate</div>

<!-- chart card -->
<div style="position:absolute;left:386.5px;top:382px;width:2459px;height:630.5px;background:#fff;border:1.4px solid #e6e8ee;border-radius:17px;box-shadow:0 1px 3px rgba(0,0,0,0.035)"></div>
<svg class="a" style="left:0;top:0;overflow:visible" width="2876" height="1388">
<line x1="506.6" y1="920.70" x2="2811.42" y2="920.70" stroke="#dfe3e8" stroke-width="2"/>
<line x1="506.6" y1="867.38" x2="2811.42" y2="867.38" stroke="#f1f4f8" stroke-width="2"/>
<line x1="506.6" y1="814.05" x2="2811.42" y2="814.05" stroke="#f1f4f8" stroke-width="2"/>
<line x1="506.6" y1="760.73" x2="2811.42" y2="760.73" stroke="#f1f4f8" stroke-width="2"/>
<line x1="506.6" y1="707.40" x2="2811.42" y2="707.40" stroke="#f1f4f8" stroke-width="2"/>
<line x1="506.6" y1="654.08" x2="2811.42" y2="654.08" stroke="#f1f4f8" stroke-width="2"/>
<line x1="506.6" y1="600.75" x2="2811.42" y2="600.75" stroke="#f1f4f8" stroke-width="2"/>
<line x1="506.6" y1="547.42" x2="2811.42" y2="547.42" stroke="#f1f4f8" stroke-width="2"/>
<line x1="506.6" y1="494.10" x2="2811.42" y2="494.10" stroke="#f1f4f8" stroke-width="2"/>
<line x1="517.70" y1="494.1" x2="517.70" y2="932.6" stroke="#dfe3e8" stroke-width="1.8"/>
<line x1="726.22" y1="494.1" x2="726.22" y2="932.6" stroke="#f1f4f9" stroke-width="1.8"/>
<line x1="934.74" y1="494.1" x2="934.74" y2="932.6" stroke="#f1f4f9" stroke-width="1.8"/>
<line x1="1143.26" y1="494.1" x2="1143.26" y2="932.6" stroke="#f1f4f9" stroke-width="1.8"/>
<line x1="1351.78" y1="494.1" x2="1351.78" y2="932.6" stroke="#f1f4f9" stroke-width="1.8"/>
<line x1="1560.30" y1="494.1" x2="1560.30" y2="932.6" stroke="#f1f4f9" stroke-width="1.8"/>
<line x1="1768.82" y1="494.1" x2="1768.82" y2="932.6" stroke="#f1f4f9" stroke-width="1.8"/>
<line x1="1977.34" y1="494.1" x2="1977.34" y2="932.6" stroke="#f1f4f9" stroke-width="1.8"/>
<line x1="2185.86" y1="494.1" x2="2185.86" y2="932.6" stroke="#f1f4f9" stroke-width="1.8"/>
<line x1="2394.38" y1="494.1" x2="2394.38" y2="932.6" stroke="#f1f4f9" stroke-width="1.8"/>
<line x1="2602.90" y1="494.1" x2="2602.90" y2="932.6" stroke="#f1f4f9" stroke-width="1.8"/>
<line x1="2811.42" y1="494.1" x2="2811.42" y2="932.6" stroke="#f1f4f9" stroke-width="1.8"/>
<line x1="517.70" y1="494.1" x2="517.70" y2="932.6" stroke="#dde1e7" stroke-width="1.6"/>
<line x1="506.6" y1="920.70" x2="2811.42" y2="920.70" stroke="#dde1e7" stroke-width="1.6"/>
<defs><linearGradient id="fg" x1="0" y1="494" x2="0" y2="640" gradientUnits="userSpaceOnUse"><stop offset="0" stop-color="#2c5fe3" stop-opacity="0.115"/><stop offset="1" stop-color="#2c5fe3" stop-opacity="0"/></linearGradient></defs>
<polygon points="517.70,920.7 517.70,601.00 726.22,583.40 934.74,567.80 1143.26,556.00 1351.78,548.30 1560.30,544.50 1768.82,543.30 1977.34,542.00 2185.86,538.00 2394.38,530.50 2602.90,518.70 2811.42,503.50 2811.42,920.7" fill="url(#fg)"/>
<polyline points="517.70,601.00 726.22,583.40 934.74,567.80 1143.26,556.00 1351.78,548.30 1560.30,544.50 1768.82,543.30 1977.34,542.00 2185.86,538.00 2394.38,530.50 2602.90,518.70 2811.42,503.50" fill="none" stroke="#2c5fe3" stroke-width="3.3" stroke-linejoin="round"/>
<circle cx="517.70" cy="601.00" r="4.3" fill="rgba(44,95,227,0.08)" stroke="#2c5fe3" stroke-width="3"/>
<circle cx="726.22" cy="583.40" r="4.3" fill="rgba(44,95,227,0.08)" stroke="#2c5fe3" stroke-width="3"/>
<circle cx="934.74" cy="567.80" r="4.3" fill="rgba(44,95,227,0.08)" stroke="#2c5fe3" stroke-width="3"/>
<circle cx="1143.26" cy="556.00" r="4.3" fill="rgba(44,95,227,0.08)" stroke="#2c5fe3" stroke-width="3"/>
<circle cx="1351.78" cy="548.30" r="4.3" fill="rgba(44,95,227,0.08)" stroke="#2c5fe3" stroke-width="3"/>
<circle cx="1560.30" cy="544.50" r="4.3" fill="rgba(44,95,227,0.08)" stroke="#2c5fe3" stroke-width="3"/>
<circle cx="1768.82" cy="543.30" r="4.3" fill="rgba(44,95,227,0.08)" stroke="#2c5fe3" stroke-width="3"/>
<circle cx="1977.34" cy="542.00" r="4.3" fill="rgba(44,95,227,0.08)" stroke="#2c5fe3" stroke-width="3"/>
<circle cx="2185.86" cy="538.00" r="4.3" fill="rgba(44,95,227,0.08)" stroke="#2c5fe3" stroke-width="3"/>
<circle cx="2394.38" cy="530.50" r="4.3" fill="rgba(44,95,227,0.08)" stroke="#2c5fe3" stroke-width="3"/>
<circle cx="2602.90" cy="518.70" r="4.3" fill="rgba(44,95,227,0.08)" stroke="#2c5fe3" stroke-width="3"/>
<circle cx="2811.42" cy="503.50" r="4.3" fill="rgba(44,95,227,0.08)" stroke="#2c5fe3" stroke-width="3"/>
<text x="501" y="927.10" text-anchor="end" class="ct">0.00</text>
<path d="M456.07 914.70 H464.77 M456.07 917.50 H464.77 M456.27 914.70 H458.67 C463.27 914.70 463.47 920.50 458.67 920.50 H456.47 L463.47 926.90" fill="none" stroke="#666" stroke-width="1.75" stroke-linejoin="miter"/>
<text x="501" y="873.77" text-anchor="end" class="ct">20.00</text>
<path d="M446.06 861.38 H454.76 M446.06 864.17 H454.76 M446.26 861.38 H448.66 C453.26 861.38 453.46 867.17 448.66 867.17 H446.46 L453.46 873.57" fill="none" stroke="#666" stroke-width="1.75" stroke-linejoin="miter"/>
<text x="501" y="820.45" text-anchor="end" class="ct">40.00</text>
<path d="M446.06 808.05 H454.76 M446.06 810.85 H454.76 M446.26 808.05 H448.66 C453.26 808.05 453.46 813.85 448.66 813.85 H446.46 L453.46 820.25" fill="none" stroke="#666" stroke-width="1.75" stroke-linejoin="miter"/>
<text x="501" y="767.12" text-anchor="end" class="ct">60.00</text>
<path d="M446.06 754.73 H454.76 M446.06 757.52 H454.76 M446.26 754.73 H448.66 C453.26 754.73 453.46 760.52 448.66 760.52 H446.46 L453.46 766.92" fill="none" stroke="#666" stroke-width="1.75" stroke-linejoin="miter"/>
<text x="501" y="713.80" text-anchor="end" class="ct">80.00</text>
<path d="M446.06 701.40 H454.76 M446.06 704.20 H454.76 M446.26 701.40 H448.66 C453.26 701.40 453.46 707.20 448.66 707.20 H446.46 L453.46 713.60" fill="none" stroke="#666" stroke-width="1.75" stroke-linejoin="miter"/>
<text x="501" y="660.48" text-anchor="end" class="ct">100.00</text>
<path d="M436.06 648.08 H444.76 M436.06 650.88 H444.76 M436.26 648.08 H438.66 C443.26 648.08 443.46 653.88 438.66 653.88 H436.46 L443.46 660.27" fill="none" stroke="#666" stroke-width="1.75" stroke-linejoin="miter"/>
<text x="501" y="607.15" text-anchor="end" class="ct">120.00</text>
<path d="M436.06 594.75 H444.76 M436.06 597.55 H444.76 M436.26 594.75 H438.66 C443.26 594.75 443.46 600.55 438.66 600.55 H436.46 L443.46 606.95" fill="none" stroke="#666" stroke-width="1.75" stroke-linejoin="miter"/>
<text x="501" y="553.82" text-anchor="end" class="ct">140.00</text>
<path d="M436.06 541.42 H444.76 M436.06 544.22 H444.76 M436.26 541.42 H438.66 C443.26 541.42 443.46 547.22 438.66 547.22 H436.46 L443.46 553.62" fill="none" stroke="#666" stroke-width="1.75" stroke-linejoin="miter"/>
<text x="501" y="500.50" text-anchor="end" class="ct">160.00</text>
<path d="M436.06 488.10 H444.76 M436.06 490.90 H444.76 M436.26 488.10 H438.66 C443.26 488.10 443.46 493.90 438.66 493.90 H436.46 L443.46 500.30" fill="none" stroke="#666" stroke-width="1.75" stroke-linejoin="miter"/>
<text x="517.70" y="954.6" text-anchor="middle" class="ct">Jul</text>
<text x="726.22" y="954.6" text-anchor="middle" class="ct">Aug</text>
<text x="934.74" y="954.6" text-anchor="middle" class="ct">Sep</text>
<text x="1143.26" y="954.6" text-anchor="middle" class="ct">Oct</text>
<text x="1351.78" y="954.6" text-anchor="middle" class="ct">Nov</text>
<text x="1560.30" y="954.6" text-anchor="middle" class="ct">Dec</text>
<text x="1768.82" y="954.6" text-anchor="middle" class="ct">Jan</text>
<text x="1977.34" y="954.6" text-anchor="middle" class="ct">Feb</text>
<text x="2185.86" y="954.6" text-anchor="middle" class="ct">Mar</text>
<text x="2394.38" y="954.6" text-anchor="middle" class="ct">Apr</text>
<text x="2602.90" y="954.6" text-anchor="middle" class="ct">May</text>
<text x="2811.42" y="954.6" text-anchor="middle" class="ct">Jun</text>
<text x="1664.8" y="986" text-anchor="middle" class="ct">Month</text>
<text transform="translate(422.3 707.5) rotate(-90)" x="0" y="0" text-anchor="middle" class="ct">Value</text>
<text x="1614.8" y="427.1" text-anchor="middle" class="ct" font-weight="bold" letter-spacing="-0.2">Trend Analysis</text>
<rect x="1560.4" y="461.5" width="59.7" height="17.7" fill="#dbe3f8" stroke="#2c5fe3" stroke-width="3"/>
<text x="1629.5" y="475.7" class="ct">GMV</text>
</svg>
</div>
<div style="position:absolute;left:2875px;top:1333px;width:1px;height:55px;background:#111"></div>
</body></html>
